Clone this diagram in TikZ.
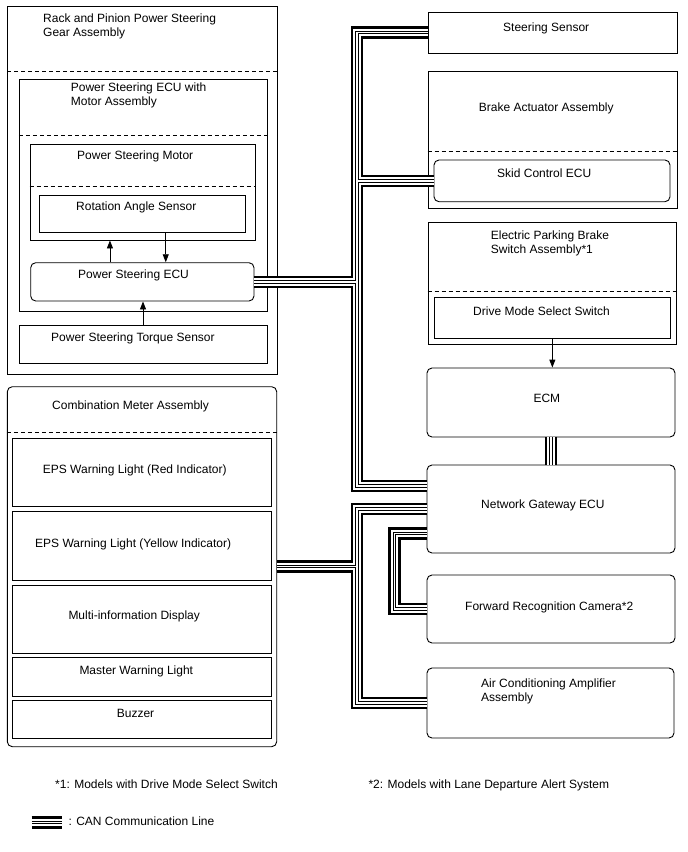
\documentclass[tikz,border=0pt]{standalone}
\usepackage{fontspec}
\setmainfont{Liberation Sans}
\usetikzlibrary{arrows.meta,calc}

% all CAN routes, drawn once per stroke layer so that junctions merge
\newcommand{\canroutes}[1]{%
  \draw[#1] (ss.west) -- (ss.west -| bx) -- ($(gw.west -| bx)+(0,-23)$) -- ($(gw.west)+(0,-23)$);
  \draw[#1] (skid.west) -- (skid.west -| bx);
  \draw[#1] (psecu.east) -- (psecu.east -| bx);
  \draw[#1] (gw.west) -- (gw.west -| bx) -- (ac.west -| bx) -- (ac.west);
  \draw[#1] (cm.east) -- (cm.east -| bx);
  \draw[#1] ($(gw.west)+(0,24.5)$) -- ++(-32,0) |- (frc.west);
  \draw[#1] (ecm.south) -- (gw.north);
  \draw[#1] (lg1) -- (lg2);}

\begin{document}
\begin{tikzpicture}[x=1pt, y=-1pt,
  font=\fontsize{12}{14}\selectfont, >={Triangle[length=8pt,width=6pt]},
  b/.style={draw, line width=0.9pt, inner sep=0pt},
  r/.style={b, rounded corners=5pt},
  l/.style={anchor=base west, inner sep=0pt, align=left},
  dsh/.style={line width=0.9pt, dash pattern=on 4pt off 3pt},
  a/.style={->, line width=0.9pt}]
\useasboundingbox (0,0) rectangle (688,852);

% left: steering gear
\node[b, minimum width=270, minimum height=368] (rack) at (142.5,190) {};
\node[b, minimum width=247.7, minimum height=232] (pem) at (143.15,195) {};
\node[b, minimum width=225.7, minimum height=96] (mot) at (142.85,192) {};
\node[b, minimum width=206.7, minimum height=37.7] (rot) at (142.35,213.85) {};
\node[r, minimum width=223.3, minimum height=38.3] (psecu) at (142.35,281.85) {};
\node[b, minimum width=248, minimum height=37.3] (tq) at (143,344.35) {};
\draw[dsh] ([yshift=-66pt]rack.north west) -- ([yshift=-66pt]rack.north east);
\draw[dsh] ([yshift=-57pt]pem.north west) -- ([yshift=-57pt]pem.north east);
\draw[dsh] ([yshift=-43pt]mot.north west) -- ([yshift=-43pt]mot.north east);
% two-line labels: base is the last line
\node[l] (rack-t) at (43,36.5) {Rack and Pinion Power Steering\\Gear Assembly};
\node[l] (pem-t) at (70.7,105.3) {Power Steering ECU with\\Motor Assembly};
\node[l] (mot-t) at (77,159.3) {Power Steering Motor};
\node[l] (rot-t) at (76,210.3) {Rotation Angle Sensor};
\node[l] (psecu-t) at (78,278.3) {Power Steering ECU};
\node[l] (tq-t) at (51,341.3) {Power Steering Torque Sensor};
\draw[a] ([xshift=-32.4pt]psecu.north) -- ([xshift=-32.4pt]psecu.north |- mot.south);
\draw[a] ([xshift=23.4pt]rot.south) -- ([xshift=23.4pt]rot.south |- psecu.north);
\draw[a] (tq.north) -- (tq.north |- psecu.south);

% left: combination meter
\node[r, minimum width=269.4, minimum height=360] (cm) at (142,566.7) {};
\draw[dsh] ([yshift=-46.3pt]cm.north west) -- ([yshift=-46.3pt]cm.north east);
\node[b, minimum width=259, minimum height=68.7] (red) at (142.2,472.35) {};
\node[b, minimum width=259, minimum height=68.3] (yel) at (142.2,545.85) {};
\node[b, minimum width=259, minimum height=68] (mid) at (142.2,619) {};
\node[b, minimum width=259, minimum height=38.3] (mwl) at (142.2,676.85) {};
\node[b, minimum width=259, minimum height=37.3] (buz) at (142.2,719.35) {};
\node[l] (cm-t) at (52,409.3) {Combination Meter Assembly};
\node[l] (red-t) at (42.7,473.3) {EPS Warning Light (Red Indicator)};
\node[l] (yel-t) at (35,547.3) {EPS Warning Light (Yellow Indicator)};
\node[l] (mid-t) at (68.3,619.3) {Multi-information Display};
\node[l] (mwl-t) at (79.3,674.3) {Master Warning Light};
\node[l] (buz-t) at (116.7,717.6) {Buzzer};

% right column
\node[b, minimum width=249, minimum height=41] (ss) at (552.5,32.5) {};
\node[b, minimum width=249, minimum height=137] (ba) at (552.5,139.5) {};
\draw[dsh] ([yshift=-80.7pt]ba.north west) -- ([yshift=-80.7pt]ba.north east);
\node[r, minimum width=236, minimum height=41.7] (skid) at (552,180.85) {};
\node[b, minimum width=248, minimum height=122] (epb) at (552,283) {};
\draw[dsh] ([yshift=-69.7pt]epb.north west) -- ([yshift=-69.7pt]epb.north east);
\node[b, minimum width=236.7, minimum height=41] (dms) at (552.35,317.5) {};
\node[r, minimum width=248, minimum height=69] (ecm) at (551,402.5) {};
\node[r, minimum width=248, minimum height=88] (gw) at (551,509) {};
\node[r, minimum width=248, minimum height=68] (frc) at (551,609) {};
\node[r, minimum width=247, minimum height=70] (ac) at (550.5,703) {};
\node[l] (ss-t) at (503,31.3) {Steering Sensor};
\node[l] (ba-t) at (478.7,111.3) {Brake Actuator Assembly};
\node[l] (skid-t) at (497,177.3) {Skid Control ECU};
\node[l] (epb-t) at (490.7,253.3) {Electric Parking Brake\\Switch Assembly*1};
\node[l] (dms-t) at (473,315) {Drive Mode Select Switch};
\node[l] (ecm-t) at (533.3,402.3) {ECM};
\node[l] (gw-t) at (481,508.3) {Network Gateway ECU};
\node[l] (frc-t) at (465,610) {Forward Recognition Camera*2};
\node[l] (ac-t) at (481,701) {Air Conditioning Amplifier\\Assembly};
\draw[a] (dms.south) -- (dms.south |- ecm.north);

% notes and legend
\node[l] (n1) at (55,788.6) {*1: Models with Drive Mode Select Switch};
\node[l] (n2) at (368.3,788.6) {*2: Models with Lane Departure Alert System};
\node[l] (lg-t) at (68.3,825.3) {: CAN Communication Line};
\coordinate (lg1) at (31.7,822.5);
\coordinate (lg2) at (61.7,822.5);

% CAN bus
\coordinate (bx) at (357,0);
\canroutes{line width=12.5pt}
\canroutes{white, line width=7.5pt}
\canroutes{line width=3.5pt}
\canroutes{white, line width=1.5pt}
\end{tikzpicture}
\end{document}
